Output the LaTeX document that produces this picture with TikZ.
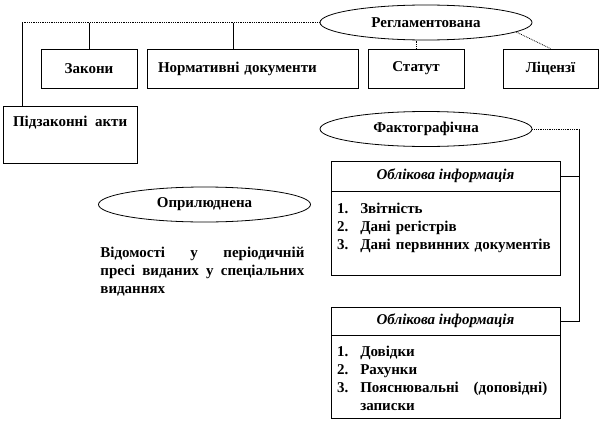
\documentclass[tikz,border=0pt]{standalone}
\usepackage{fontspec}
\setmainfont{Liberation Serif}
\usetikzlibrary{positioning,shapes.geometric}

\begin{document}
\begin{tikzpicture}[x=1pt,y=-1pt,line width=0.8pt,
    font=\fontsize{15}{17.8}\selectfont\bfseries,
    box/.style={draw,rectangle,inner sep=0pt,minimum height=39pt},
    oval/.style={draw,ellipse,inner sep=0pt,minimum width=212pt,minimum height=35pt},
    head/.style={draw,rectangle,inner sep=0pt,minimum width=229pt,
        font=\fontsize{15}{17.8}\selectfont\bfseries\itshape},
    list/.style={draw,rectangle,inner xsep=6pt,inner ysep=0pt,minimum width=229pt,
        below=0pt of #1,text width=217pt},
    link/.style={densely dotted}]
    \useasboundingbox (0,0) rectangle (601,423);

    \node[oval]                        (reg)  at (426,22.5)  {Регламентована};
    \node[box,minimum width=96pt]      (zak)  at (89,68.5)   {Закони};
    \node[box,minimum width=211pt,text width=189pt,align=left]
                                       (norm) at (252.5,68.5) {Нормативні документи};
    \node[box,minimum width=96pt]      (stat) at (416,68.5)  {Статут};
    \node[box,minimum width=95pt]      (lic)  at (550.5,68.5) {Ліцензї};
    \node[box,minimum width=134pt,minimum height=57pt,
          label={[anchor=north west,inner sep=0pt,xshift=10pt,yshift=-10pt]north west:Підзаконні\ \ акти}]
                                       (pidz) at (70,134.5)  {};
    \coordinate (tl) at (22,22.5);

    \node[oval]                        (fakt) at (426,129)   {Фактографічна};
    \node[head,minimum height=30pt]    (h1)   at (445.5,176) {Облікова інформація};
    \node[list=h1,text height=22pt,text depth=62pt] (l1)
        {\begin{tabular}[t]{@{}l@{\hspace{12pt}}l@{}}
            1.&Звітність\\
            2.&Дані регістрів\\
            3.&Дані первинних документів
        \end{tabular}};
    \node[head,minimum height=28pt]    (h2)   at (445.5,321) {Облікова інформація};
    \node[list=h2,text height=21pt,text depth=62pt] (l2)
        {\begin{tabular}[t]{@{}l@{\hspace{12pt}}p{187pt}@{}}
            1.&Довідки\\
            2.&Рахунки\\
            3.&Пояснювальні\hfill(доповідні)\\
              &записки
        \end{tabular}};
    \coordinate (fr) at (579,129);

    \node[oval]                        (opr)  at (204.5,204.5) {Оприлюднена};
    \node[anchor=north west,inner sep=0pt,text width=204pt,align=justify,
          font=\fontsize{15}{18}\selectfont\bfseries]
                                       (vid)  at (100,247)
        {Відомості у періодичній\linebreak пресі виданих у спеціальних\linebreak виданнях};

    % connectors
    \draw[link] (reg.west) -- (tl);
    \draw (tl) -- (tl |- pidz.north);
    \draw (zak.north) -- (zak.north |- reg.west);
    \draw ([xshift=-19.5pt]norm.north) -- ([xshift=-19.5pt]norm.north |- reg.west);
    \draw[link] (stat.north) -- (stat.north |- reg.south);
    \draw[link] (reg.-6) -- (lic.north);
    \draw[link] (fakt.east) -- (fr);
    \draw (fr) |- (h2.east);
    \draw (h1.east) -- (h1.east -| fr);
\end{tikzpicture}
\end{document}
